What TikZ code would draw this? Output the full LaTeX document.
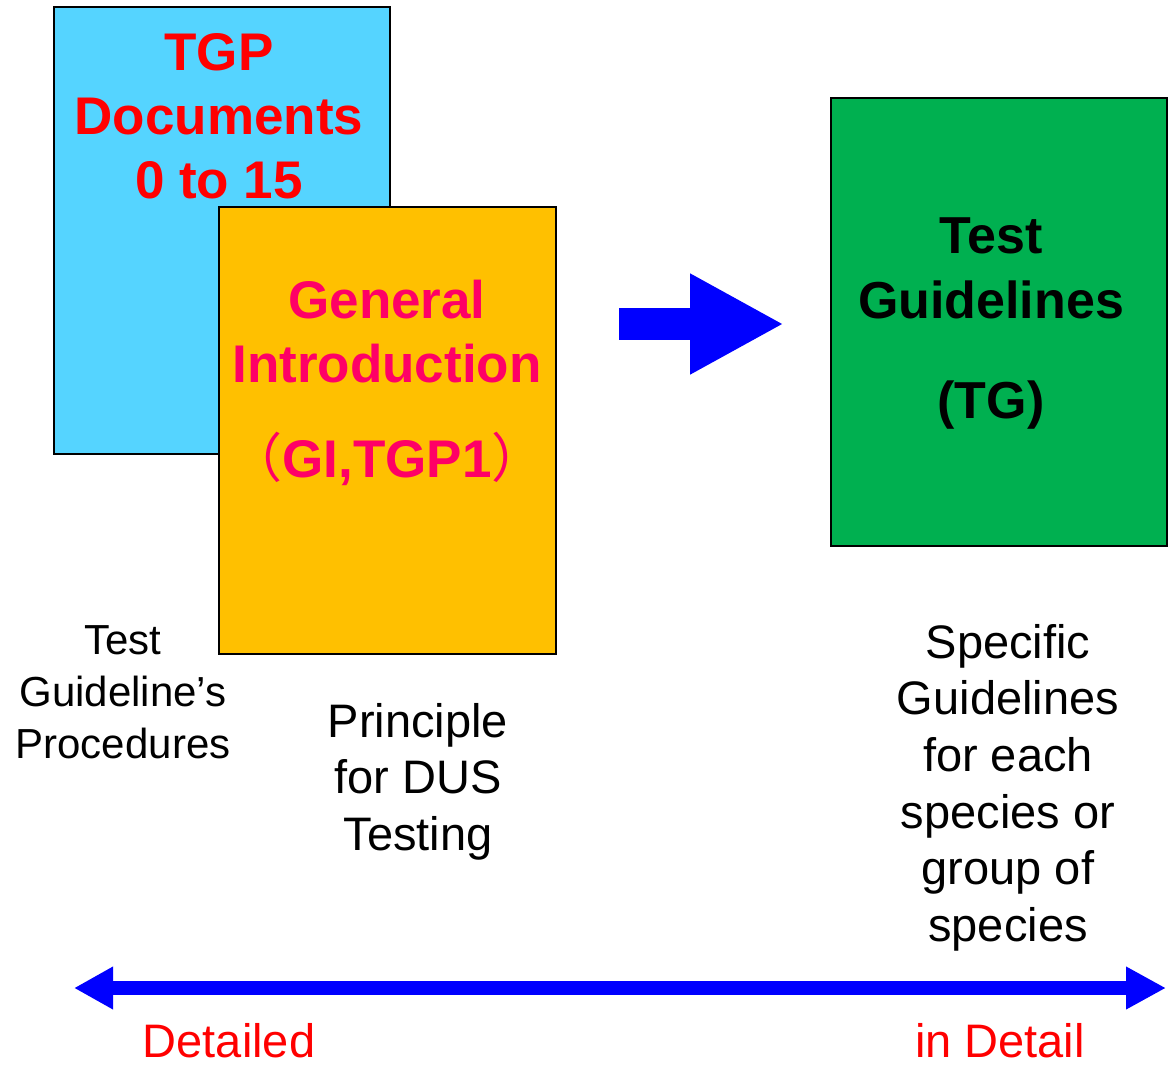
\documentclass[tikz,border=0pt]{standalone}
\usepackage{fontspec}
\setmainfont{Liberation Sans}
\newfontfamily\cjkfont{Noto Sans CJK SC}
\usetikzlibrary{arrows.meta}
\definecolor{boxcyan}{RGB}{85,212,255}
\definecolor{boxorange}{RGB}{255,192,0}
\definecolor{boxgreen}{RGB}{0,176,80}
\definecolor{pinkred}{RGB}{255,0,102}
\definecolor{arrowblue}{RGB}{0,0,255}
\begin{document}
\begin{tikzpicture}[x=1pt,y=-1pt,
  docbox/.style={draw=black, line width=2pt, anchor=north west, inner sep=0pt},
  textblock/.style={align=center, inner sep=0pt, anchor=north},
  flowarrow/.style={arrowblue, line width=32pt, -{Triangle[length=94pt,width=94pt]}},
  scalearrow/.style={arrowblue, line width=14pt, {Triangle[length=39pt,width=40pt]}-{Triangle[length=40pt,width=40pt]}}]
\useasboundingbox (0,0) rectangle (1173,1066);
% TGP documents box
\node[docbox, fill=boxcyan, minimum width=336pt, minimum height=447pt] (tgp) at (53,6) {};
\node[textblock, text=red, font=\bfseries\fontsize{53}{64}\selectfont] (tgptext) at (219,33) {TGP\\Documents\\0 to 15};
% General introduction box
\node[docbox, fill=boxorange, minimum width=337pt, minimum height=447pt] (gi) at (218,206) {};
\node[textblock, text=pinkred, font=\bfseries\fontsize{53}{64}\selectfont] (gitext) at (387,280) {General\\Introduction\\[31pt]{\cjkfont\mdseries （}GI,TGP1{\cjkfont\mdseries ）}};
% Test guidelines box
\node[docbox, fill=boxgreen, minimum width=336pt, minimum height=448pt] (tg) at (830,97) {};
\node[textblock, text=black, font=\bfseries\fontsize{52}{65}\selectfont] (tgtext) at (991,218) {Test\\Guidelines\\[35pt](TG)};
% captions
\node[textblock, font=\fontsize{42}{52}\selectfont] (proc) at (123,625) {Test\\Guideline’s\\Procedures};
\node[textblock, font=\fontsize{47}{56.5}\selectfont] (dus) at (418,703) {Principle\\for DUS\\Testing};
\node[textblock, font=\fontsize{47}{56.6}\selectfont] (spec) at (1008,624) {Specific\\Guidelines\\for each\\species or\\group of\\species};
% arrows
\coordinate (flowstart) at (619,324);
\coordinate (flowend) at (784,324);
\draw[flowarrow] (flowstart) -- (flowend);
\coordinate (scaleL) at (74,988);
\coordinate (scaleR) at (1166,988);
\draw[scalearrow] (scaleL) -- (scaleR);
% scale labels
\node[anchor=base, inner sep=0pt, text=red, font=\fontsize{47}{56}\selectfont] (detailed) at (229,1057) {Detailed};
\node[anchor=base, inner sep=0pt, text=red, font=\fontsize{47}{56}\selectfont] (indetail) at (1000,1057) {in Detail};
\end{tikzpicture}
\end{document}
